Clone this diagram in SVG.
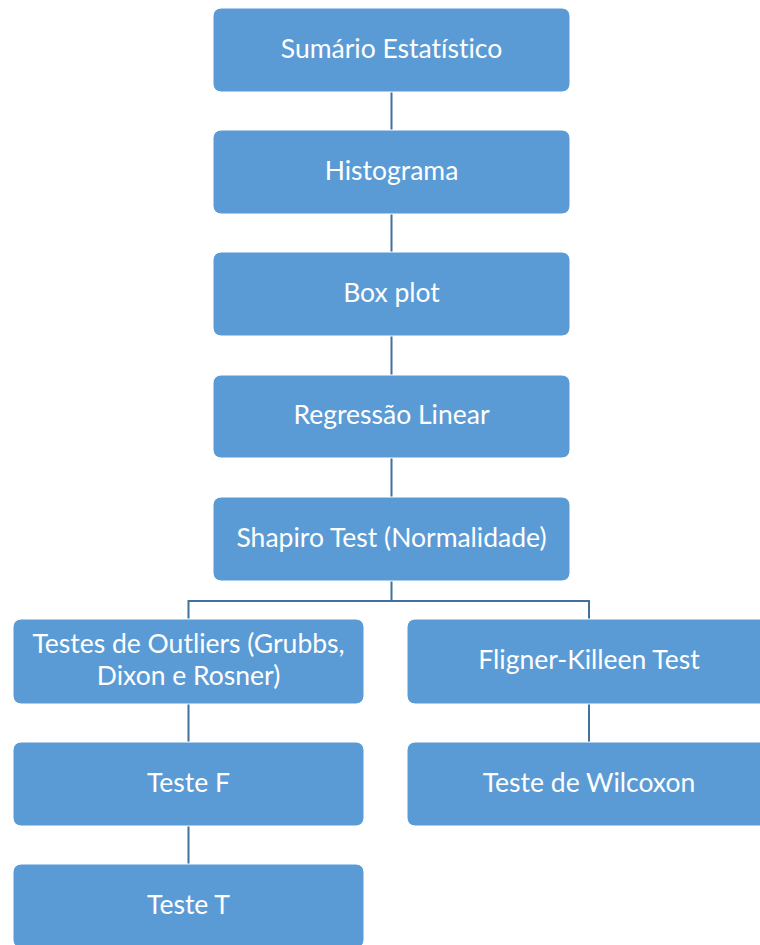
<svg xmlns="http://www.w3.org/2000/svg" width="760" height="945" viewBox="0 0 760 945">
<style>
.box{fill:#5B9BD5;stroke:#ffffff;stroke-width:1}
.lbl{fill:#ffffff;font-family:Lato,"Open Sans",sans-serif;font-size:26.5px;text-anchor:middle;font-variant-ligatures:none}
.conn{stroke:#41719C;stroke-width:2;fill:none}
</style>
<rect width="760" height="945" fill="#ffffff"/>
<g id="connectors">
<path class="conn" d="M391.5 92V130M391.5 214V252M391.5 336V375M391.5 458V497"/>
<path class="conn" d="M391.5 581V601M188.5 619V601H589V619"/>
<path class="conn" d="M188.5 704V742M188.5 826V864M589 704V742"/>
</g>
<g id="n1"><rect class="box" x="213" y="8" width="357" height="84" rx="8"/><text class="lbl" x="391.5" y="58">Sumário Estatístico</text></g>
<g id="n2"><rect class="box" x="213" y="130" width="357" height="84" rx="8"/><text class="lbl" x="391.5" y="180">Histograma</text></g>
<g id="n3"><rect class="box" x="213" y="252" width="357" height="84" rx="8"/><text class="lbl" x="391.5" y="302">Box plot</text></g>
<g id="n4"><rect class="box" x="213" y="375" width="357" height="83" rx="8"/><text class="lbl" x="391.5" y="424">Regressão Linear</text></g>
<g id="n5"><rect class="box" x="213" y="497" width="357" height="84" rx="8"/><text class="lbl" x="391.5" y="547">Shapiro Test (Normalidade)</text></g>
<g id="n6"><rect class="box" x="13" y="619" width="351" height="85" rx="8"/><text class="lbl" x="188.5" y="653">Testes de Outliers (Grubbs,</text><text class="lbl" x="188.5" y="685">Dixon e Rosner)</text></g>
<g id="n7"><rect class="box" x="407" y="619" width="364" height="85" rx="8"/><text class="lbl" x="589" y="669">Fligner-Killeen Test</text></g>
<g id="n8"><rect class="box" x="13" y="742" width="351" height="84" rx="8"/><text class="lbl" x="188.5" y="792">Teste F</text></g>
<g id="n9"><rect class="box" x="407" y="742" width="364" height="84" rx="8"/><text class="lbl" x="589" y="792">Teste de Wilcoxon</text></g>
<g id="n10"><rect class="box" x="13" y="864" width="351" height="84" rx="8"/><text class="lbl" x="188.5" y="914">Teste T</text></g>
</svg>
